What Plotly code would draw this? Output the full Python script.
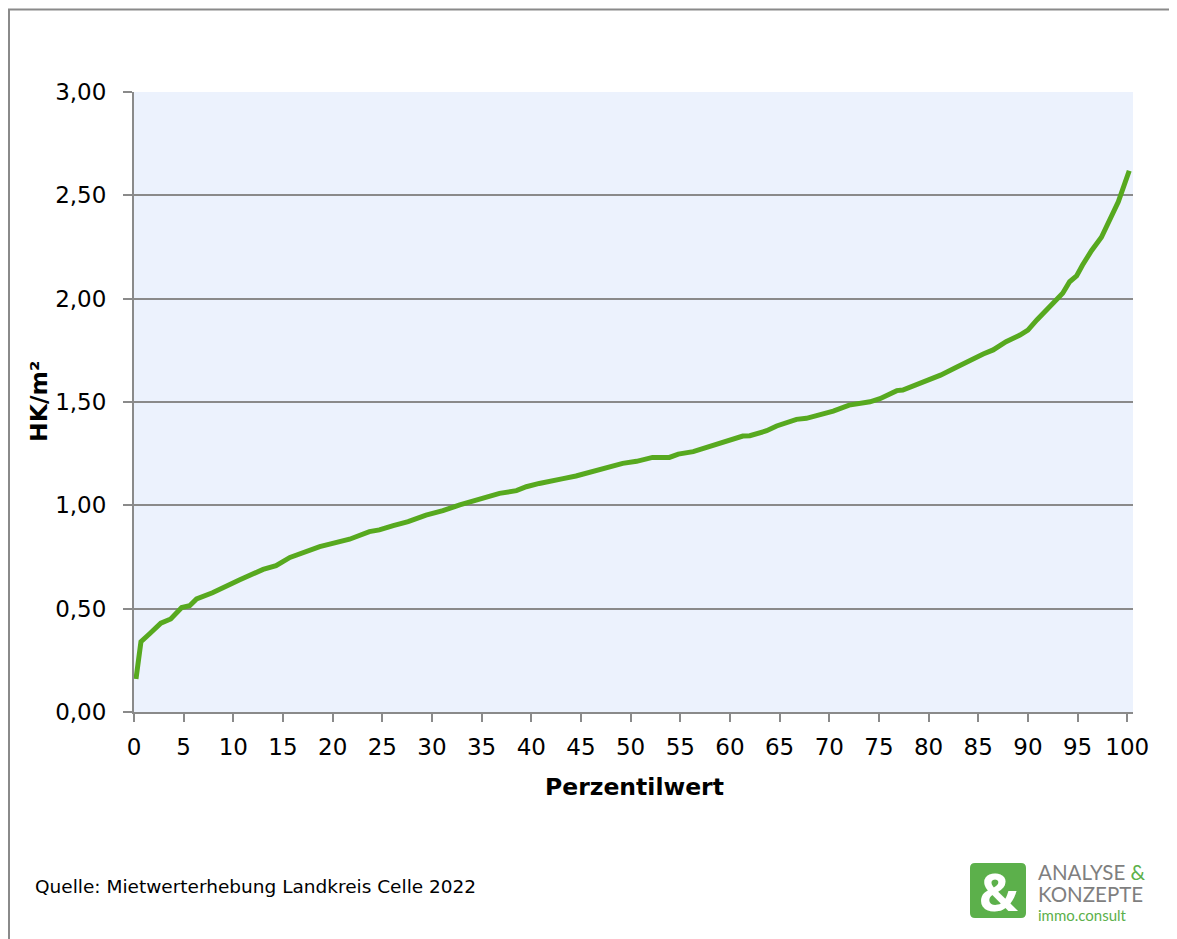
import plotly.graph_objects as go

# Perzentile und Heizkosten (HK/m²)
perzentil = [0.2, 0.7, 1.6, 2.7, 3.7, 4.8, 5.6, 6.3, 7.9, 9.3, 10.6, 13.0, 14.3, 15.7,
             17.0, 18.7, 20.0, 21.7, 23.7, 24.7, 26.1, 27.6, 29.4, 31.1, 32.8, 34.1,
             35.8, 36.8, 38.5, 39.5, 40.8, 42.2, 43.2, 44.5, 45.9, 47.2, 47.9, 49.2,
             50.6, 52.2, 53.9, 54.8, 56.3, 57.6, 59.0, 60.0, 61.3, 62.0, 63.7, 64.7,
             66.7, 67.7, 68.7, 70.4, 72.0, 74.1, 75.1, 76.8, 77.4, 78.8, 80.1, 81.2,
             82.8, 84.1, 85.5, 86.5, 87.8, 89.2, 90.0, 90.9, 91.9, 93.0, 93.5, 94.2,
             94.9, 95.5, 96.4, 97.4, 98.2, 99.1, 100.2]
hk_m2 = [0.16, 0.34, 0.38, 0.43, 0.45, 0.505, 0.514, 0.547, 0.577, 0.611, 0.639, 0.690,
         0.708, 0.748, 0.771, 0.800, 0.816, 0.836, 0.873, 0.881, 0.902, 0.921, 0.953,
         0.974, 1.002, 1.022, 1.042, 1.058, 1.071, 1.090, 1.106, 1.116, 1.129, 1.142,
         1.161, 1.176, 1.182, 1.203, 1.213, 1.232, 1.232, 1.248, 1.260, 1.279, 1.297,
         1.311, 1.335, 1.337, 1.361, 1.384, 1.416, 1.421, 1.432, 1.456, 1.485, 1.501,
         1.516, 1.555, 1.558, 1.585, 1.606, 1.630, 1.668, 1.700, 1.732, 1.752, 1.792,
         1.824, 1.848, 1.897, 1.948, 2.002, 2.026, 2.082, 2.110, 2.163, 2.232, 2.297,
         2.381, 2.469, 2.619]

x_ticks = list(range(0, 101, 5))
y_ticks = [0, 0.5, 1.0, 1.5, 2.0, 2.5, 3.0]

OFF = 8  # Standard-Rand des Browsers
W, H = 1177 - OFF, 939 - OFF
L, R, T, B = 134 - OFF, 1133 - OFF, 92 - OFF, 712 - OFF  # Plotbereich in Pixel

GREY = "#8a8a8a"
GREEN_LINE = "#57a91f"
GREEN_LOGO = "#5cb04b"
FONT = "DejaVu Sans"


def px_x(px):
    # Pixel im Referenzbild -> paper-Koordinate
    return (px - OFF - L) / (R - L)


def px_y(py):
    return (B - (py - OFF)) / (B - T)


fig = go.Figure()
fig.add_trace(go.Scatter(
    x=perzentil, y=hk_m2, mode="lines",
    line=dict(color=GREEN_LINE, width=5),
    hoverinfo="skip", showlegend=False,
))

# äußerer Rahmen
fig.add_shape(type="rect", xref="paper", yref="paper",
              x0=px_x(9), x1=px_x(1190), y0=px_y(950), y1=px_y(9.5),
              line=dict(color=GREY, width=2), layer="below")

# Logo: abgerundetes grünes Quadrat
lx0, lx1, ly0, ly1, r = 970, 1026, 863, 918, 5
path = (f"M {px_x(lx0 + r)},{px_y(ly0)} L {px_x(lx1 - r)},{px_y(ly0)} "
        f"Q {px_x(lx1)},{px_y(ly0)} {px_x(lx1)},{px_y(ly0 + r)} "
        f"L {px_x(lx1)},{px_y(ly1 - r)} Q {px_x(lx1)},{px_y(ly1)} {px_x(lx1 - r)},{px_y(ly1)} "
        f"L {px_x(lx0 + r)},{px_y(ly1)} Q {px_x(lx0)},{px_y(ly1)} {px_x(lx0)},{px_y(ly1 - r)} "
        f"L {px_x(lx0)},{px_y(ly0 + r)} Q {px_x(lx0)},{px_y(ly0)} {px_x(lx0 + r)},{px_y(ly0)} Z")
fig.add_shape(type="path", xref="paper", yref="paper", path=path,
              fillcolor=GREEN_LOGO, line=dict(width=0))

annotations = [
    dict(text="<b>Perzentilwert</b>", x=px_x(634), y=px_y(787),
         font=dict(size=23.5, color="black", family=FONT)),
    dict(text="<b>HK/m²</b>", x=px_x(39), y=px_y(402), textangle=-90,
         font=dict(size=23.5, color="black", family=FONT)),
    dict(text="Quelle: Mietwerterhebung Landkreis Celle 2022", x=px_x(33), y=px_y(886),
         xanchor="left", font=dict(size=18.5, color="black", family=FONT)),
    dict(text="<b>&</b>", x=px_x(998), y=px_y(890),
         font=dict(size=52, color="white", family="Open Sans")),
    dict(text=f"ANALYSE <span style='color:{GREEN_LOGO}'>&</span>", x=px_x(1036), y=px_y(872),
         xanchor="left", font=dict(size=20.5, color="#7f7f7f", family="Lato")),
    dict(text="KONZEPTE", x=px_x(1036), y=px_y(894),
         xanchor="left", font=dict(size=20.5, color="#7f7f7f", family="Lato")),
    dict(text="immo.consult", x=px_x(1036), y=px_y(915),
         xanchor="left", font=dict(size=15, color=GREEN_LOGO, family="Lato")),
]
for a in annotations:
    a.update(xref="paper", yref="paper", showarrow=False)
    a.setdefault("xanchor", "center")
    a.setdefault("yanchor", "middle")

fig.update_layout(
    width=W, height=H,
    margin=dict(l=L, r=W - R, t=T, b=H - B, pad=0),
    paper_bgcolor="white", plot_bgcolor="#ecf2fd",
    font=dict(family=FONT, size=23, color="black"),
    separators=",.",
    annotations=annotations,
    showlegend=False,
)
fig.update_xaxes(
    range=[0, 100.58], tickvals=x_ticks, ticks="outside", ticklen=8,
    tickcolor=GREY, tickwidth=2, showline=True, linecolor=GREY, linewidth=2,
    showgrid=False, zeroline=False, ticklabelstandoff=5,
)
fig.update_yaxes(
    range=[0, 3], tickvals=y_ticks, tickformat=".2f", ticks="outside", ticklen=9,
    tickcolor=GREY, tickwidth=2, showline=True, linecolor=GREY, linewidth=2,
    showgrid=True, gridcolor=GREY, gridwidth=1.5, zeroline=False,
    ticklabelstandoff=12,
)

fig.write_html("out.html")
